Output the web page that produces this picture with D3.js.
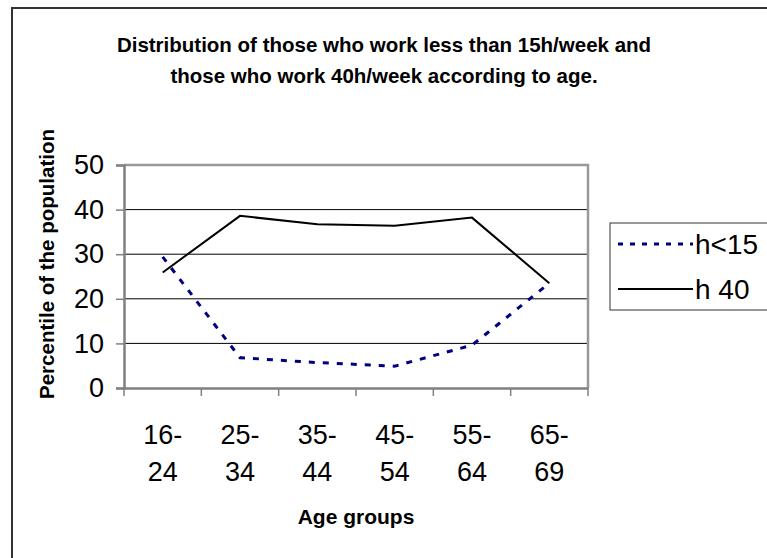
<!DOCTYPE html>
<html>
<head>
<meta charset="utf-8">
<script src="https://cdn.jsdelivr.net/npm/d3@7"></script>
<style>
  body { margin: 0; background: #fff; }
  text { font-family: "Liberation Sans", Arial, sans-serif; fill: #000; }
</style>
</head>
<body>
<div id="container"></div>
<script>
const ageGroups = ["16-24", "25-34", "35-44", "45-54", "55-64", "65-69"];
const under15 = [29.4, 6.8, 5.7, 4.9, 9.6, 23.5];
const h40 = [25.9, 38.6, 36.7, 36.4, 38.2, 23.5];
const yTicks = [0, 10, 20, 30, 40, 50];
const seriesNames = ["h<15", "h 40"];

const width = 767, height = 558;
const plot = {left: 124, right: 588, top: 165, bottom: 388};

const svg = d3.select("#container").append("svg")
    .attr("width", width)
    .attr("height", height);

// outer chart border
svg.append("rect")
    .attr("x", 12).attr("y", 8)
    .attr("width", 800).attr("height", 600)
    .attr("fill", "none")
    .attr("stroke", "#333")
    .attr("stroke-width", 2);

const x = d3.scaleBand()
    .domain(ageGroups)
    .range([plot.left, plot.right])
    .padding(0);

const y = d3.scaleLinear()
    .domain([0, 50])
    .range([plot.bottom, plot.top]);

// gridlines
svg.append("g")
    .selectAll("line")
    .data(yTicks.filter(d => d > 0 && d < 50))
    .join("line")
    .attr("x1", plot.left).attr("x2", plot.right)
    .attr("y1", d => y(d)).attr("y2", d => y(d))
    .attr("stroke", "#000")
    .attr("stroke-width", 1);

// plot frame top/right
svg.append("path")
    .attr("d", `M${plot.left},${plot.top}H${plot.right}V${plot.bottom}`)
    .attr("fill", "none")
    .attr("stroke", "#999")
    .attr("stroke-width", 2.5);

// y axis
const yAxis = svg.append("g")
    .attr("transform", `translate(${plot.left},0)`)
    .call(d3.axisLeft(y).tickValues(yTicks).tickSize(8).tickPadding(12));
yAxis.select(".domain").attr("stroke", "#808080").attr("stroke-width", 2.5);
yAxis.selectAll(".tick line").attr("stroke", "#808080").attr("stroke-width", 1.5);
yAxis.selectAll(".tick text")
    .attr("font-size", 27)
    .attr("font-family", "Liberation Sans, Arial, sans-serif")
    .attr("fill", "#000");

// x axis: ticks at category boundaries
const xAxis = svg.append("g")
    .attr("transform", `translate(0,${plot.bottom})`)
    .call(d3.axisBottom(x).tickSize(0).tickFormat(""));
xAxis.select(".domain").attr("stroke", "#808080").attr("stroke-width", 2.5);

svg.append("g")
    .selectAll("line")
    .data(ageGroups.concat(["end"]))
    .join("line")
    .attr("x1", d => d === "end" ? plot.right : x(d))
    .attr("x2", d => d === "end" ? plot.right : x(d))
    .attr("y1", plot.bottom).attr("y2", plot.bottom + 8)
    .attr("stroke", "#808080")
    .attr("stroke-width", 1.5);

const xLabels = svg.append("g")
    .selectAll("text")
    .data(ageGroups)
    .join("text")
    .attr("x", d => x(d) + x.bandwidth() / 2)
    .attr("y", plot.bottom + 56)
    .attr("text-anchor", "middle")
    .attr("font-size", 27);
xLabels.append("tspan").text(d => d.split("-")[0] + "-");
xLabels.append("tspan")
    .attr("x", d => x(d) + x.bandwidth() / 2)
    .attr("dy", 37)
    .text(d => d.split("-")[1]);

// lines
const line = d3.line()
    .x((d, i) => x(ageGroups[i]) + x.bandwidth() / 2)
    .y(d => y(d));

svg.append("path")
    .datum(under15)
    .attr("d", line)
    .attr("fill", "none")
    .attr("stroke", "#000080")
    .attr("stroke-width", 3)
    .attr("stroke-dasharray", "6,8");

svg.append("path")
    .datum(h40)
    .attr("d", line)
    .attr("fill", "none")
    .attr("stroke", "#000")
    .attr("stroke-width", 2);

// titles
const title = svg.append("text")
    .attr("x", 384)
    .attr("y", 52)
    .attr("text-anchor", "middle")
    .attr("font-size", 20.5)
    .attr("font-weight", "bold");
title.append("tspan").text("Distribution of those who work less than 15h/week and");
title.append("tspan").attr("x", 384).attr("dy", 31)
    .text("those who work 40h/week according to age.");

svg.append("text")
    .attr("x", (plot.left + plot.right) / 2)
    .attr("y", 524)
    .attr("text-anchor", "middle")
    .attr("font-size", 21)
    .attr("font-weight", "bold")
    .text("Age groups");

svg.append("text")
    .attr("transform", `translate(54,264) rotate(-90)`)
    .attr("text-anchor", "middle")
    .attr("font-size", 20.5)
    .attr("font-weight", "bold")
    .text("Percentile of the population");

// legend
const legend = svg.append("g");
legend.append("rect")
    .attr("x", 610).attr("y", 223)
    .attr("width", 200).attr("height", 87)
    .attr("fill", "#fff")
    .attr("stroke", "#333")
    .attr("stroke-width", 1);

const legendStyles = [
    {stroke: "#000080", width: 3, dash: "5,7"},
    {stroke: "#000", width: 2, dash: null}
];
const legendY = [244, 289];
seriesNames.forEach((name, i) => {
    legend.append("line")
        .attr("x1", 618).attr("x2", 693)
        .attr("y1", legendY[i]).attr("y2", legendY[i])
        .attr("stroke", legendStyles[i].stroke)
        .attr("stroke-width", legendStyles[i].width)
        .attr("stroke-dasharray", legendStyles[i].dash);
    legend.append("text")
        .attr("x", 695)
        .attr("y", legendY[i] + 10)
        .attr("font-size", 28)
        .text(name);
});
</script>
</body>
</html>
